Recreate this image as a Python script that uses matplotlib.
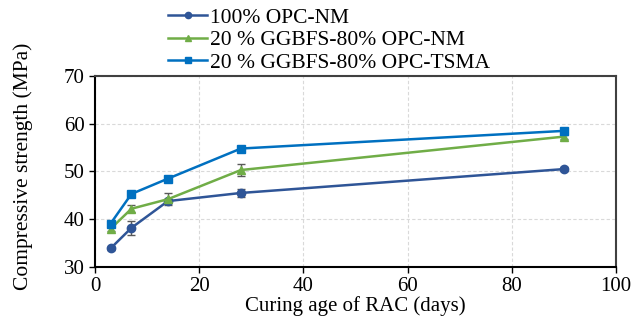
import matplotlib
matplotlib.use("Agg")
import matplotlib.pyplot as plt
from matplotlib.lines import Line2D

plt.rcParams['font.family'] = ['Liberation Serif', 'DejaVu Serif']

days = [3, 7, 14, 28, 90]
opc_nm = [33.9, 38.2, 43.8, 45.5, 50.5]
opc_nm_err = [0.3, 1.5, 0.5, 0.8, 0.5]
gg_nm = [38.0, 42.2, 44.2, 50.3, 57.3]
gg_nm_err = [0.4, 0.7, 1.3, 1.3, 0.4]
gg_tsma = [39.1, 45.3, 48.5, 54.8, 58.5]
gg_tsma_err = [0.3, 0.4, 0.3, 0.4, 0.3]
labels = ['100% OPC-NM', '20 % GGBFS-80% OPC-NM', '20 % GGBFS-80% OPC-TSMA']

fig = plt.figure(figsize=(6.44, 3.34), dpi=100)
ax = fig.add_axes([0.1475, 0.2006, 0.809, 0.572])

styles = [
    (opc_nm, opc_nm_err, '#2F5597', 'o', 6),
    (gg_nm, gg_nm_err, '#70AD47', '^', 6),
    (gg_tsma, gg_tsma_err, '#0070C0', 's', 6),
]
handles = []
for (vals, err, col, mk, ms), lab in zip(styles, labels):
    ax.errorbar(days, vals, yerr=err, color=col, marker=mk, markersize=ms,
                linewidth=1.8, ecolor='#595959', elinewidth=1, capsize=3,
                capthick=1, zorder=3)
    handles.append(Line2D([], [], color=col, marker=mk, markersize=4.5,
                          linewidth=1.8))

ax.set_xlim(0, 100)
ax.set_ylim(30, 70)
ax.set_xticks([0, 20, 40, 60, 80, 100])
ax.set_yticks([30, 40, 50, 60, 70])
ax.grid(True, color='#D9D9D9', linestyle=(0, (3, 2)), linewidth=0.8)
ax.set_axisbelow(True)
for s in ['left', 'bottom']:
    ax.spines[s].set_color('black')
    ax.spines[s].set_linewidth(1.5)
for s in ['top', 'right']:
    ax.spines[s].set_color('#404040')
    ax.spines[s].set_linewidth(1.5)
ax.tick_params(direction='out', length=4, width=1, labelsize=15, colors='black')
ax.set_xlabel('Curing age of RAC (days)', fontsize=15, labelpad=0)
ax.set_ylabel('Compressive strength (MPa)', fontsize=15.5, va='center')
ax.yaxis.set_label_coords(-0.138, 0.526)

fig.legend(handles=handles, labels=labels, loc='upper left',
           bbox_to_anchor=(0.2477, 1.003), frameon=False, fontsize=15.5,
           handlelength=1.8, handletextpad=0.15, labelspacing=0.12,
           borderaxespad=0.0)

fig.savefig('out.png', dpi=100)
